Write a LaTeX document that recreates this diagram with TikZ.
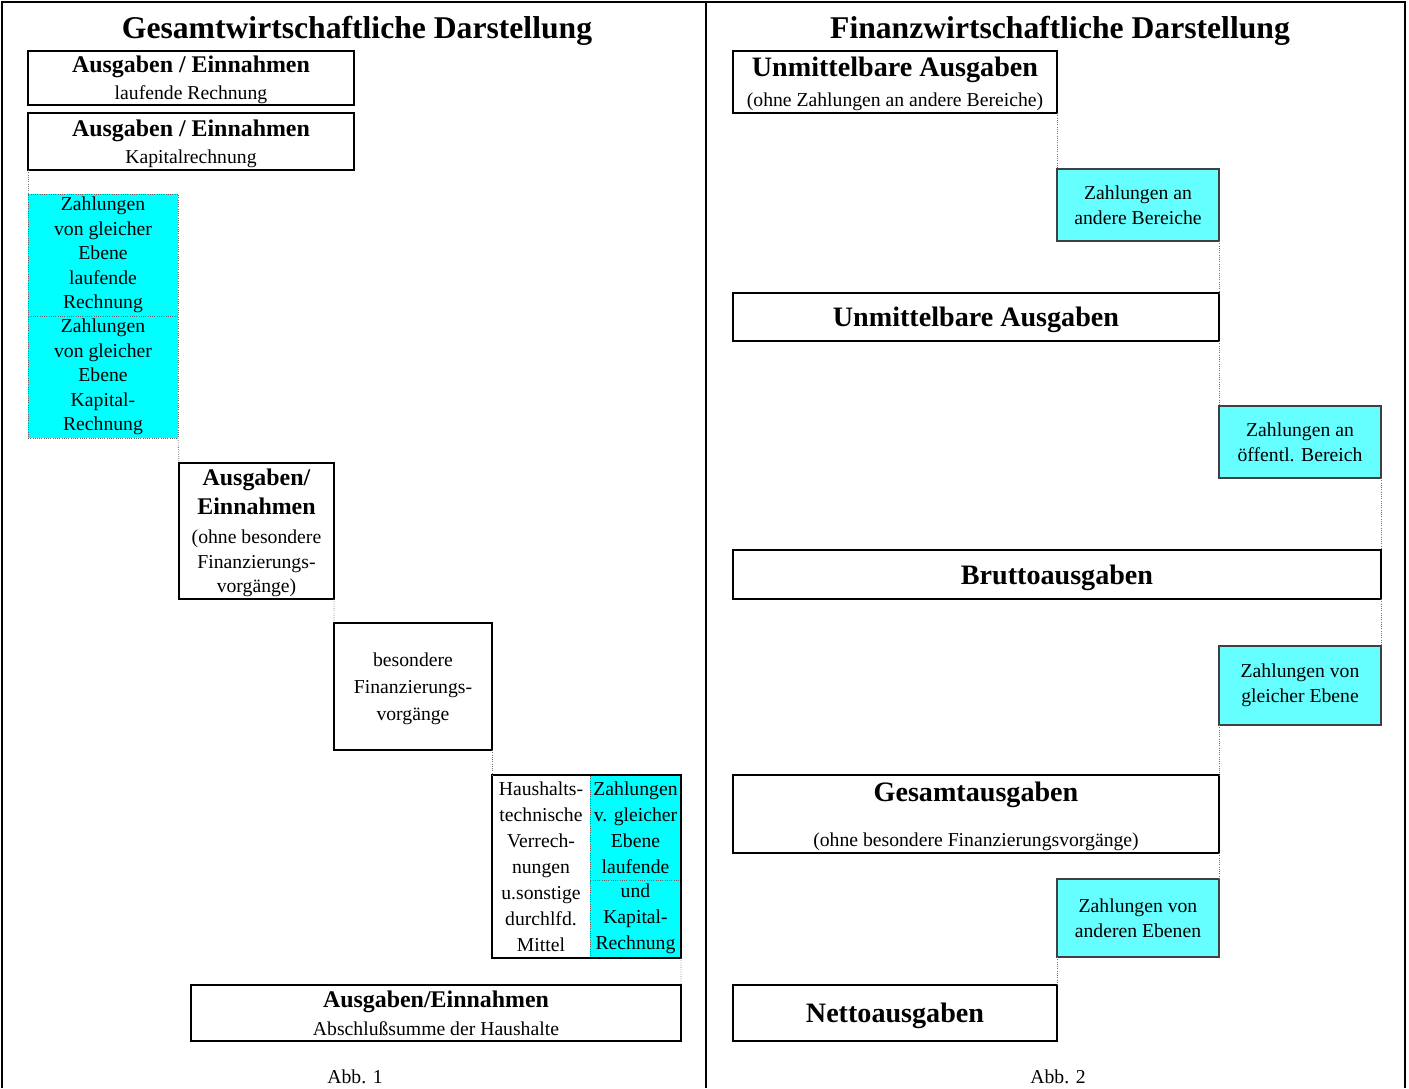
\documentclass[tikz,border=0pt]{standalone}
\usepackage{fontspec}
\setmainfont{Liberation Serif}

\definecolor{zcyan}{RGB}{102,255,255}
\definecolor{lcyan}{RGB}{0,255,255}
\newcommand{\hdA}{\fontsize{17}{20}\selectfont\bfseries}
\newcommand{\hdB}{\fontsize{20}{24}\selectfont\bfseries}
\def\pxu{0.025cm} % one pixel of the page

\begin{document}
\begin{tikzpicture}[
    x=0.025cm, y=-0.025cm,
    font=\fontsize{14}{17.5}\selectfont,
    box/.style  ={draw=black,line width=1.4pt,align=center,inner sep=0pt,outer sep=0pt,anchor=north west,text depth=0pt},
    zlgc/.style ={fill=lcyan,draw=black!60,densely dotted,line width=0.6pt,align=center,inner sep=0pt,outer sep=0pt,anchor=north west},
    zfin/.style ={fill=zcyan,draw=black!75,line width=0.8pt,align=center,inner sep=0pt,outer sep=0pt,anchor=north west},
    cell/.style ={align=center,inner sep=0pt,outer sep=0pt,anchor=north west},
    link/.style ={draw=black!55,densely dotted,line width=0.6pt},
    frame/.style={line width=2pt},
    title/.style={font=\fontsize{22.5}{27}\selectfont\bfseries},
    wh/.style 2 args={minimum width=#1*\pxu, minimum height=#2*\pxu},
]
\useasboundingbox (0,0) rectangle (1409,1088);

% ---------- Page frame ----------
\draw[frame] (2,1088) -- (2,2) -- (1405,2) -- (1405,1088);
\draw[frame] (706,2) -- (706,1088);

\node[title] (T1) at (357,31) {Gesamtwirtschaftliche Darstellung};
\node[title] (T2) at (1060,31) {Finanzwirtschaftliche Darstellung};

% ---------- Left: Abb. 1 ----------
\node[box, wh={326}{54}] (A1) at (28,51)
  {{\hdA Ausgaben / Einnahmen}\\[1.5pt]laufende Rechnung};
\node[box, wh={326}{57}] (A2) at (28,113)
  {{\hdA Ausgaben / Einnahmen}\\[1.5pt]Kapitalrechnung};

\node[zlgc, wh={150}{122}] (Z1) at (28,194)
  {Zahlungen\\von gleicher\\Ebene\\laufende\\Rechnung};
\node[zlgc, wh={150}{122}] (Z2) at (28,316)
  {Zahlungen\\von gleicher\\Ebene\\Kapital-\\Rechnung};

\node[box, wh={155}{136}] (B) at (179,463)
  {{\hdA Ausgaben/}\\[3pt]{\hdA Einnahmen}\\[3pt](ohne besondere\\Finanzierungs-\\vorgänge)};

\node[box, wh={158}{127}, font=\fontsize{14}{19}\selectfont] (C) at (334,623)
  {besondere\\Finanzierungs-\\vorgänge};

% two-column block
\node[cell, wh={98}{183}, font=\fontsize{14}{18.5}\selectfont] (DL) at (492,775)
  {Haushalts-\\technische\\Verrech-\\nungen\\u.sonstige\\durchlfd.\\Mittel};
\node[zlgc, wh={91}{105}, font=\fontsize{14}{18.5}\selectfont] (DR1) at (590,775)
  {Zahlungen\\v. gleicher\\Ebene\\laufende};
\node[zlgc, wh={91}{78}, font=\fontsize{14}{18.5}\selectfont] (DR2) at (590,880)
  {und\\Kapital-\\Rechnung};
\node[box, wh={189}{183}] (D) at (492,775) {};

\node[box, wh={490}{56}] (E) at (191,985)
  {{\hdA Ausgaben/Einnahmen}\\[2.5pt]Abschlußsumme der Haushalte};

\node (AB1) at (355,1077) {Abb. 1};

\draw[link] (A2.south west) -- (Z1.north west);
\draw[link] (Z2.south east) -- (B.north west);
\draw[link] (B.south east) -- (C.north west);
\draw[link] (C.south east) -- (D.north west);
\draw[link] (D.south east) -- (E.north east);

% ---------- Right: Abb. 2 ----------
\node[box, wh={324}{62}] (R1) at (733,51)
  {{\hdB Unmittelbare Ausgaben}\\[3.5pt](ohne Zahlungen an andere Bereiche)};
\node[zfin, wh={162}{72}] (R2) at (1057,169) {Zahlungen an\\andere Bereiche};
\node[box, wh={486}{48}] (R3) at (733,293) {\hdB Unmittelbare Ausgaben};
\node[zfin, wh={162}{72}] (R4) at (1219,406) {Zahlungen an\\öffentl. Bereich};
\node[box, wh={648}{49}] (R5) at (733,550) {\hdB Bruttoausgaben};
\node[zfin, wh={162}{79}] (R6) at (1219,646) {Zahlungen von\\gleicher Ebene};
\node[box, wh={486}{78}] (R7) at (733,775)
  {{\hdB Gesamtausgaben}\\[14.5pt](ohne besondere Finanzierungsvorgänge)};
\node[zfin, wh={162}{78}] (R8) at (1057,879) {Zahlungen von\\anderen Ebenen};
\node[box, wh={324}{56}] (R9) at (733,985) {\hdB Nettoausgaben};

\node (AB2) at (1058,1077) {Abb. 2};

\draw[link] (R1.south east) -- (R2.north west);
\draw[link] (R2.south east) -- (R3.north east);
\draw[link] (R3.south east) -- (R4.north west);
\draw[link] (R4.south east) -- (R5.north east);
\draw[link] (R5.south east) -- (R6.north east);
\draw[link] (R6.south west) -- (R7.north east);
\draw[link] (R7.south east) -- (R8.north east);
\draw[link] (R8.south west) -- (R9.north east);

\end{tikzpicture}
\end{document}
